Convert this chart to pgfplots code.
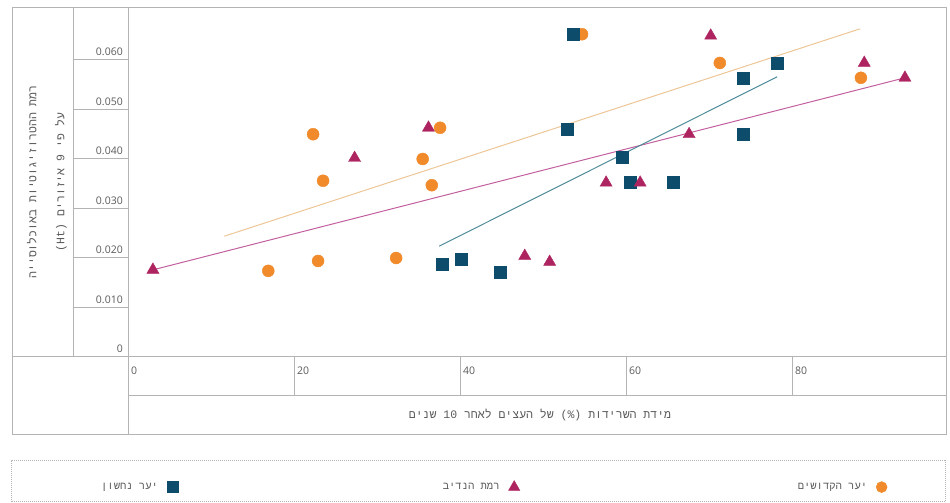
\documentclass[border=0pt]{standalone}
\usepackage{fontspec}
\setmainfont{Open Sans}
\newfontfamily\heb[Script=Hebrew]{Liberation Mono}
\usepackage{pgfplots}
\pgfplotsset{compat=1.18}
\TeXXeTstate=1
\definecolor{framegray}{HTML}{B4B4B4}
\definecolor{txtgray}{HTML}{5A5A5A}
\definecolor{corange}{HTML}{F08A2A}
\definecolor{lorange}{HTML}{EDC698}
\definecolor{cmag}{HTML}{AE2461}
\definecolor{lmag}{HTML}{C2609F}
\definecolor{cblue}{HTML}{0E4C6B}
\definecolor{lblue}{HTML}{4E8C9A}

\pgfplotstableread{
x y
16.9 0.0174
22.3 0.0450
23.5 0.0356
22.9 0.0194
32.3 0.0200
35.5 0.0400
36.6 0.0347
37.6 0.0463
54.7 0.0652
71.3 0.0594
88.3 0.0564
}\orangedata

\pgfplotstableread{
x y
3.0 0.0176
27.3 0.0402
36.2 0.0463
47.8 0.0204
50.8 0.0192
57.6 0.0352
61.7 0.0352
67.6 0.0450
70.2 0.0649
88.7 0.0594
93.6 0.0564
}\magdata

\pgfplotstableread{
x y
37.9 0.0188
40.2 0.0198
44.9 0.0172
52.9 0.0461
53.6 0.0653
59.5 0.0404
60.5 0.0353
65.7 0.0353
74.1 0.0564
74.1 0.0451
78.2 0.0594
}\bluedata

\begin{document}
\begin{tikzpicture}[x=1pt,y=1pt]
\path[use as bounding box] (0,0) rectangle (950,503);
\begin{axis}[
  at={(128pt,146pt)}, anchor=south west,
  scale only axis, width=818pt, height=349pt,
  xmin=0, xmax=98.55, ymin=0, ymax=0.0705,
  axis line style={draw=framegray, line width=1pt},
  clip=false,
  xtick={0,20,40,60,80},
  ytick={0,0.01,0.02,0.03,0.04,0.05,0.06},
  yticklabels={0,0.010,0.020,0.030,0.040,0.050,0.060},
  scaled y ticks=false,
  major tick length=0pt,
  tick style={draw=none},
  /pgf/number format/assume math mode=true,
  ticklabel style={font=\fontsize{10.5}{12}\selectfont, text=txtgray},
  xticklabel style={anchor=north west, inner sep=0pt, xshift=3pt, yshift=-10pt},
  yticklabel style={anchor=south east, inner sep=0pt, xshift=-5pt, yshift=4pt},
  legend columns=3,
  legend plot pos=right,
  legend style={draw=none, fill=none, at={(-0.0355,-0.372)}, anchor=west, inner sep=0pt,
    font=\heb\fontsize{10.5}{12}\selectfont, text=txtgray,
    /tikz/column 1/.style={column sep=7pt},
    /tikz/column 3/.style={column sep=7pt},
    /tikz/column 5/.style={column sep=7pt},
    /tikz/column 2/.style={column sep=263pt},
    /tikz/column 4/.style={column sep=276pt}},
]
% trend lines
\addplot[lorange, line width=1pt, forget plot] coordinates {(11.6,0.0244) (88.2,0.0663)};
\addplot[lmag, line width=1pt, forget plot] coordinates {(3.0,0.0176) (93.6,0.0564)};
\addplot[lblue, line width=1pt, forget plot] coordinates {(37.5,0.0224) (78.2,0.0566)};
% points
\addplot[only marks, mark=*, mark size=6pt, color=corange, forget plot] table {\orangedata};
\addplot[only marks, mark=square*, mark size=6pt, color=cblue, forget plot] table {\bluedata};
\addplot[only marks, mark=triangle*, mark size=7pt, color=cmag, forget plot] table {\magdata};
% legend
\addlegendimage{only marks, mark=square*, mark size=5.5pt, color=cblue}
\addlegendentry{\beginR יער נחשון\endR}
\addlegendimage{only marks, mark=triangle*, mark size=6.5pt, color=cmag}
\addlegendentry{\beginR רמת הנדיב\endR}
\addlegendimage{only marks, mark=*, mark size=5.5pt, color=corange}
\addlegendentry{\beginR יער הקדושים\endR}
% table grid lines
\draw[framegray, line width=1pt] (axis cs:0,0.01) -- ++(-55pt,0pt);
\draw[framegray, line width=1pt] (axis cs:0,0.02) -- ++(-55pt,0pt);
\draw[framegray, line width=1pt] (axis cs:0,0.03) -- ++(-55pt,0pt);
\draw[framegray, line width=1pt] (axis cs:0,0.04) -- ++(-55pt,0pt);
\draw[framegray, line width=1pt] (axis cs:0,0.05) -- ++(-55pt,0pt);
\draw[framegray, line width=1pt] (axis cs:0,0.06) -- ++(-55pt,0pt);
\draw[framegray, line width=1pt] (axis cs:20,0) -- ++(0pt,-39pt);
\draw[framegray, line width=1pt] (axis cs:40,0) -- ++(0pt,-39pt);
\draw[framegray, line width=1pt] (axis cs:60,0) -- ++(0pt,-39pt);
\draw[framegray, line width=1pt] (axis cs:80,0) -- ++(0pt,-39pt);
\end{axis}
\draw[framegray, line width=1pt] (12,68) rectangle (946,495);
\draw[framegray, line width=1pt] (73,146) -- (73,495);
\draw[framegray, line width=1pt] (128,68) -- (128,495);
\draw[framegray, line width=1pt] (12,146) -- (946,146);
\draw[framegray, line width=1pt] (128,107) -- (946,107);
\draw[framegray, densely dotted, line width=1pt] (11,1) rectangle (945,42);
\node[font=\heb\fontsize{11.5}{13}\selectfont, text=txtgray] at (540,88)
  {\beginR מידת השרידות \beginL(\%)\endL{} של העצים לאחר \beginL10\endL{} שנים\endR};
\node[rotate=90, align=center, font=\heb\fontsize{11.5}{28}\selectfont, text=txtgray] at (47,321)
  {\beginR רמת ההטרוזיגוטיות באוכלוסייה\endR\\\beginR על פי 9 איזורים \beginL(Ht)\endL\endR};
\end{tikzpicture}
\end{document}
